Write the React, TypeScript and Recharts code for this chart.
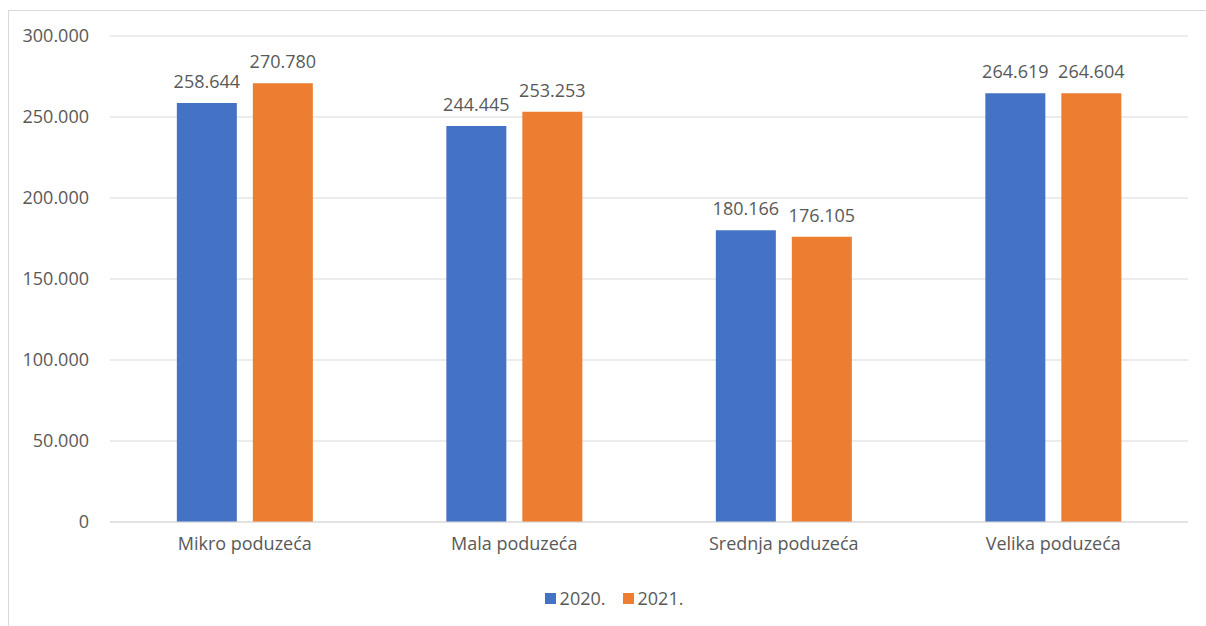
import React from "react";
import {
  BarChart,
  Bar,
  XAxis,
  YAxis,
  CartesianGrid,
  Legend,
  LabelList,
} from "recharts";

const categories = [
  "Mikro poduzeća",
  "Mala poduzeća",
  "Srednja poduzeća",
  "Velika poduzeća",
];
const values2020 = [258644, 244445, 180166, 264619];
const values2021 = [270780, 253253, 176105, 264604];
const yTicks = [0, 50000, 100000, 150000, 200000, 250000, 300000];

const data = categories.map((name, i) => ({
  name,
  y2020: values2020[i],
  y2021: values2021[i],
}));

const FONT = "'Open Sans', sans-serif";
const TEXT = "#595959";
const FS = 18;

// 258644 -> "258.644"
const fmt = (v: number) =>
  String(Math.round(v)).replace(/\B(?=(\d{3})+(?!\d))/g, ".");

const LegendContent = ({ payload }: any) => (
  <div
    style={{
      display: "flex",
      justifyContent: "center",
      gap: 17,
      fontFamily: FONT,
      fontSize: FS,
      color: TEXT,
    }}
  >
    {(payload || []).map((p: any) => (
      <div key={p.value} style={{ display: "flex", alignItems: "center" }}>
        <span
          style={{
            width: 11,
            height: 11,
            background: p.color,
            marginRight: 4,
            display: "inline-block",
          }}
        />
        <span>{p.value}</span>
      </div>
    ))}
  </div>
);

export default function App() {
  return (
    <div
      style={{
        position: "fixed",
        left: 0,
        top: 0,
        width: 1206,
        height: 626,
        background: "#fff",
        overflow: "hidden",
        fontFamily: FONT,
      }}
    >
      <div
        style={{
          position: "absolute",
          left: 8,
          top: 10,
          width: 1300,
          height: 700,
          borderTop: "1px solid #d9d9d9",
          borderLeft: "1px solid #d9d9d9",
        }}
      />
      <div style={{ position: "absolute", left: 0, top: 0 }}>
        <BarChart
          width={1206}
          height={626}
          data={data}
          margin={{ top: 36, right: 18, left: 0, bottom: 38 }}
          barCategoryGap="24.8%"
          barGap={16}
        >
          <CartesianGrid vertical={false} stroke="#d9d9d9" />
          <XAxis
            dataKey="name"
            tickLine={false}
            axisLine={{ stroke: "#d9d9d9" }}
            tickMargin={9}
            tick={{ fill: TEXT, fontSize: FS, fontFamily: FONT }}
          />
          <YAxis
            width={110}
            domain={[0, 300000]}
            ticks={yTicks}
            tickFormatter={fmt}
            axisLine={false}
            tickLine={false}
            tickMargin={15}
            tick={{ fill: TEXT, fontSize: FS, fontFamily: FONT }}
          />
          <Legend
            verticalAlign="bottom"
            height={36}
            content={<LegendContent />}
            wrapperStyle={{ bottom: 4, left: 20 }}
          />
          <Bar dataKey="y2020" name="2020." fill="#4472C4" isAnimationActive={false}>
            <LabelList
              dataKey="y2020"
              position="top"
              offset={15}
              formatter={(v: number) => fmt(v)}
              style={{ fill: TEXT, fontSize: FS, fontFamily: FONT }}
            />
          </Bar>
          <Bar dataKey="y2021" name="2021." fill="#ED7D31" isAnimationActive={false}>
            <LabelList
              dataKey="y2021"
              position="top"
              offset={15}
              formatter={(v: number) => fmt(v)}
              style={{ fill: TEXT, fontSize: FS, fontFamily: FONT }}
            />
          </Bar>
        </BarChart>
      </div>
    </div>
  );
}
